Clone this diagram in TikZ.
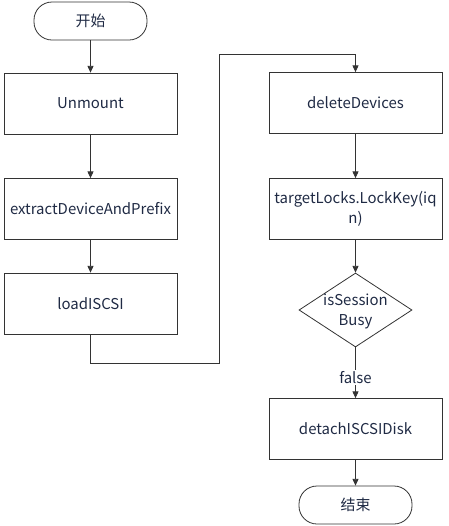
\documentclass[tikz,border=0pt]{standalone}
\usepackage{fontspec}
\setmainfont{Noto Sans CJK SC}
\usetikzlibrary{shapes.geometric,arrows.meta}
\definecolor{txt}{HTML}{1F2A44}
\definecolor{ln}{HTML}{333333}
\begin{document}
\begin{tikzpicture}[x=0.75pt,y=-0.75pt,
  every node/.style={text=txt,font=\fontsize{11.2}{15}\selectfont},
  proc/.style={draw=ln,line width=0.6pt,minimum width=173*0.75pt,minimum height=61*0.75pt,inner sep=1pt,align=center,text width=168*0.75pt},
  term/.style={draw=ln,line width=0.6pt,rounded corners=18*0.75pt,minimum width=113*0.75pt,minimum height=38*0.75pt,inner sep=0pt},
  conn/.style={draw=ln,line width=0.6pt,-{Triangle[length=5pt,width=4.5pt]}}]
\useasboundingbox (0,0) rectangle (449,526);
\node[term] (start) at (90.5,21) {开始};
\node[proc] (unmount) at (90.5,103.5) {Unmount};
\node[proc] (extract) at (90.5,209) {extractDeviceAndPrefix};
\node[proc] (load) at (90.5,303.5) {loadISCSI};
\node[proc] (del) at (355.5,103) {deleteDevices};
\node[proc] (lock) at (355.5,209) {targetLocks.LockKey(iq\\n)};
\node[draw=ln,line width=0.6pt,diamond,minimum width=113*0.75pt,minimum height=74*0.75pt,inner sep=0pt] (busy) at (355.5,310) {};
\node[align=center] (busyt) at (355.5,311) {isSession\\Busy};
\node[proc] (detach) at (355.5,429) {detachISCSIDisk};
\node[term] (end) at (355.5,505) {结束};
\coordinate (c1) at (90.5,363);
\coordinate (c2) at (219,363);
\coordinate (c3) at (219,54);
\coordinate (c4) at (355.5,54);
\draw[conn] (start) -- (unmount);
\draw[conn] (unmount) -- (extract);
\draw[conn] (extract) -- (load);
\draw[conn] (load.south) -- (c1) -- (c2) -- (c3) -- (c4) -- (del.north);
\draw[conn] (del) -- (lock);
\draw[conn] (lock) -- (busy.north);
\draw[conn] (busy.south) -- node[pos=0.6,fill=white,inner sep=1pt] (f) {false} (detach.north);
\draw[conn] (detach) -- (end);
\end{tikzpicture}
\end{document}
